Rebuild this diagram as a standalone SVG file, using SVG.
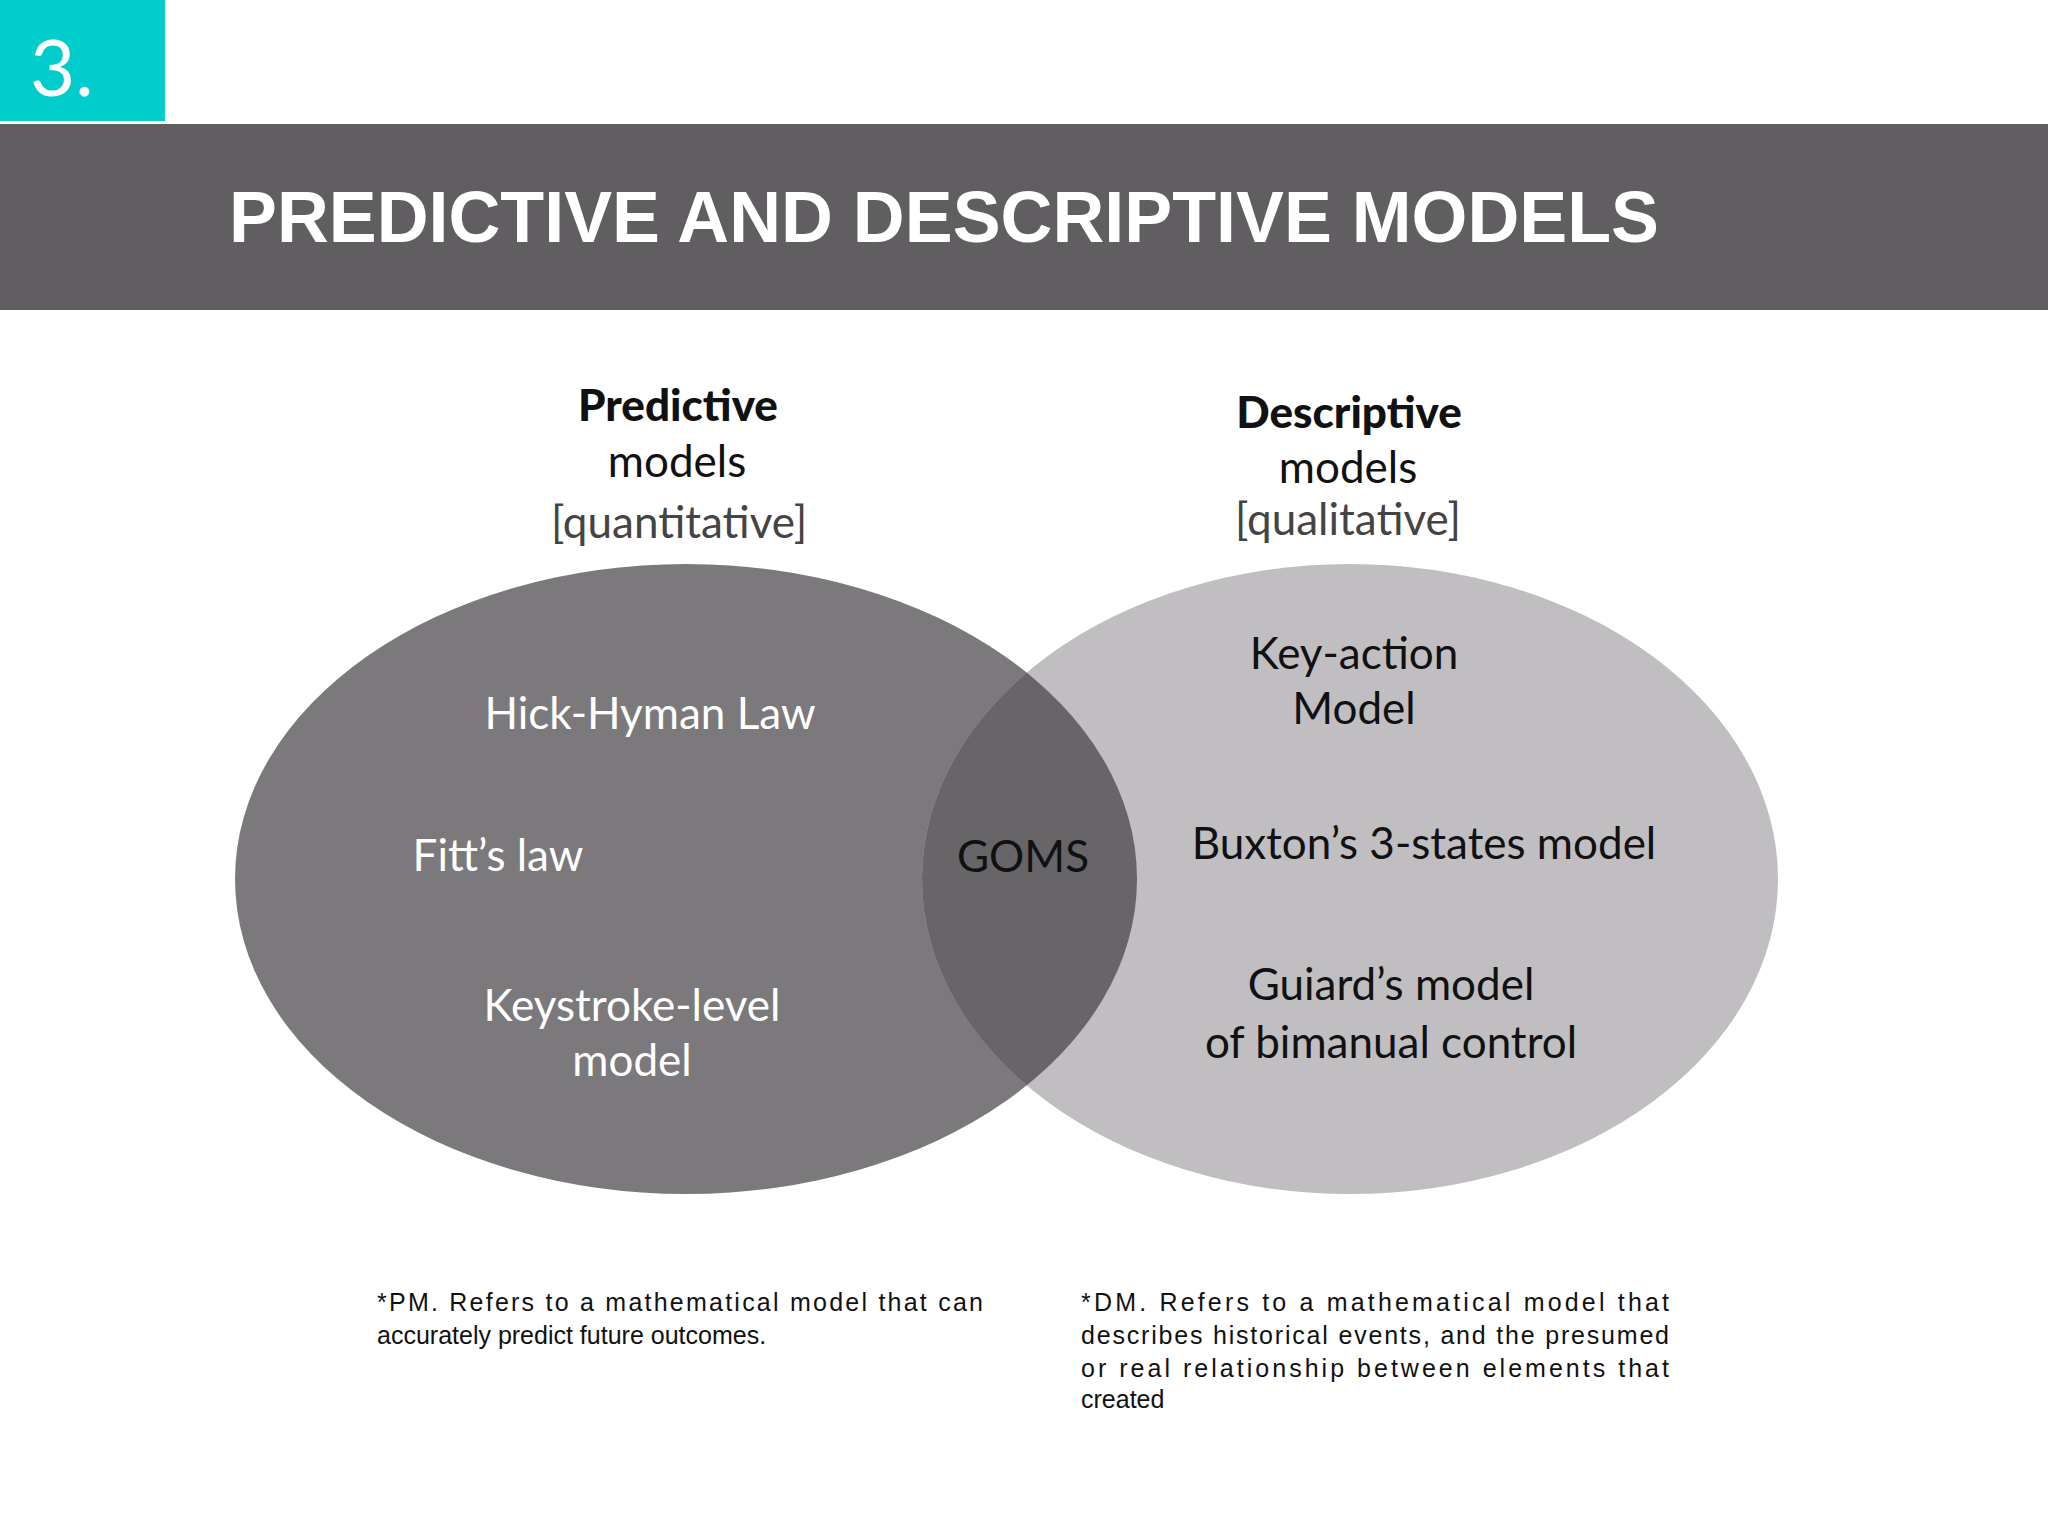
<svg xmlns="http://www.w3.org/2000/svg" width="2048" height="1536" viewBox="0 0 2048 1536">
<style>
.g{font-family:Lato,"Open Sans",sans-serif;text-anchor:middle;font-size:44px}
.w{fill:#ffffff}.k{fill:#111111}
.fn{font-family:"Liberation Sans",Arial,sans-serif;font-size:25px;fill:#111}
</style>
<defs><clipPath id="cl"><ellipse cx="686" cy="879" rx="451" ry="315"/></clipPath></defs>
<rect width="2048" height="1536" fill="#fff"/>
<g id="badge"><rect x="0" y="0" width="165" height="121" fill="#00cccc"/>
<text x="30" y="96" font-family="Lato,sans-serif" font-size="78" fill="#fff">3.</text></g>
<g id="header"><rect x="0" y="124" width="2048" height="186" fill="#605e60"/>
<text x="229" y="242" font-family="'Liberation Sans',Arial,sans-serif" font-weight="bold" font-size="72" fill="#fff" textLength="1430" lengthAdjust="spacingAndGlyphs">PREDICTIVE AND DESCRIPTIVE MODELS</text></g>
<g id="predictive"><ellipse cx="686" cy="879" rx="451" ry="315" fill="#7b797c"/>
<text class="g k" x="678" y="421" font-weight="900" font-size="47">Predictive</text>
<text class="g k" x="677" y="477">models</text>
<text class="g" x="679" y="538" fill="#444">[quantitative]</text>
<text class="g w" x="650" y="729">Hick-Hyman Law</text>
<text class="g w" x="498" y="871">Fitt’s law</text>
<text class="g w" x="632" y="1021">Keystroke-level</text>
<text class="g w" x="632" y="1076">model</text></g>
<g id="descriptive"><ellipse cx="1350" cy="879" rx="428" ry="315" fill="#c0bec1"/>
<text class="g k" x="1349" y="428" font-weight="900" font-size="47">Descriptive</text>
<text class="g k" x="1348" y="483">models</text>
<text class="g" x="1348" y="535" fill="#444">[qualitative]</text>
<text class="g k" x="1354" y="669">Key-action</text>
<text class="g k" x="1354" y="724">Model</text>
<text class="g k" x="1424" y="859">Buxton’s 3-states model</text>
<text class="g k" x="1391" y="1000">Guiard’s model</text>
<text class="g k" x="1391" y="1058">of bimanual control</text></g>
<g id="goms"><ellipse cx="1350" cy="879" rx="428" ry="315" fill="#676568" clip-path="url(#cl)"/>
<text class="g k" x="1023" y="872">GOMS</text></g>
<g id="connectors"></g>
<g id="notes">
<text class="fn" x="377" y="1311" textLength="606" lengthAdjust="spacing">*PM. Refers to a mathematical model that can</text>
<text class="fn" x="377" y="1344">accurately predict future outcomes.</text>
<text class="fn" x="1081" y="1311" textLength="588" lengthAdjust="spacing">*DM. Refers to a mathematical model that</text>
<text class="fn" x="1081" y="1344" textLength="588" lengthAdjust="spacing">describes historical events, and the presumed</text>
<text class="fn" x="1081" y="1377" textLength="588" lengthAdjust="spacing">or real relationship between elements that</text>
<text class="fn" x="1081" y="1408">created</text></g>
</svg>
